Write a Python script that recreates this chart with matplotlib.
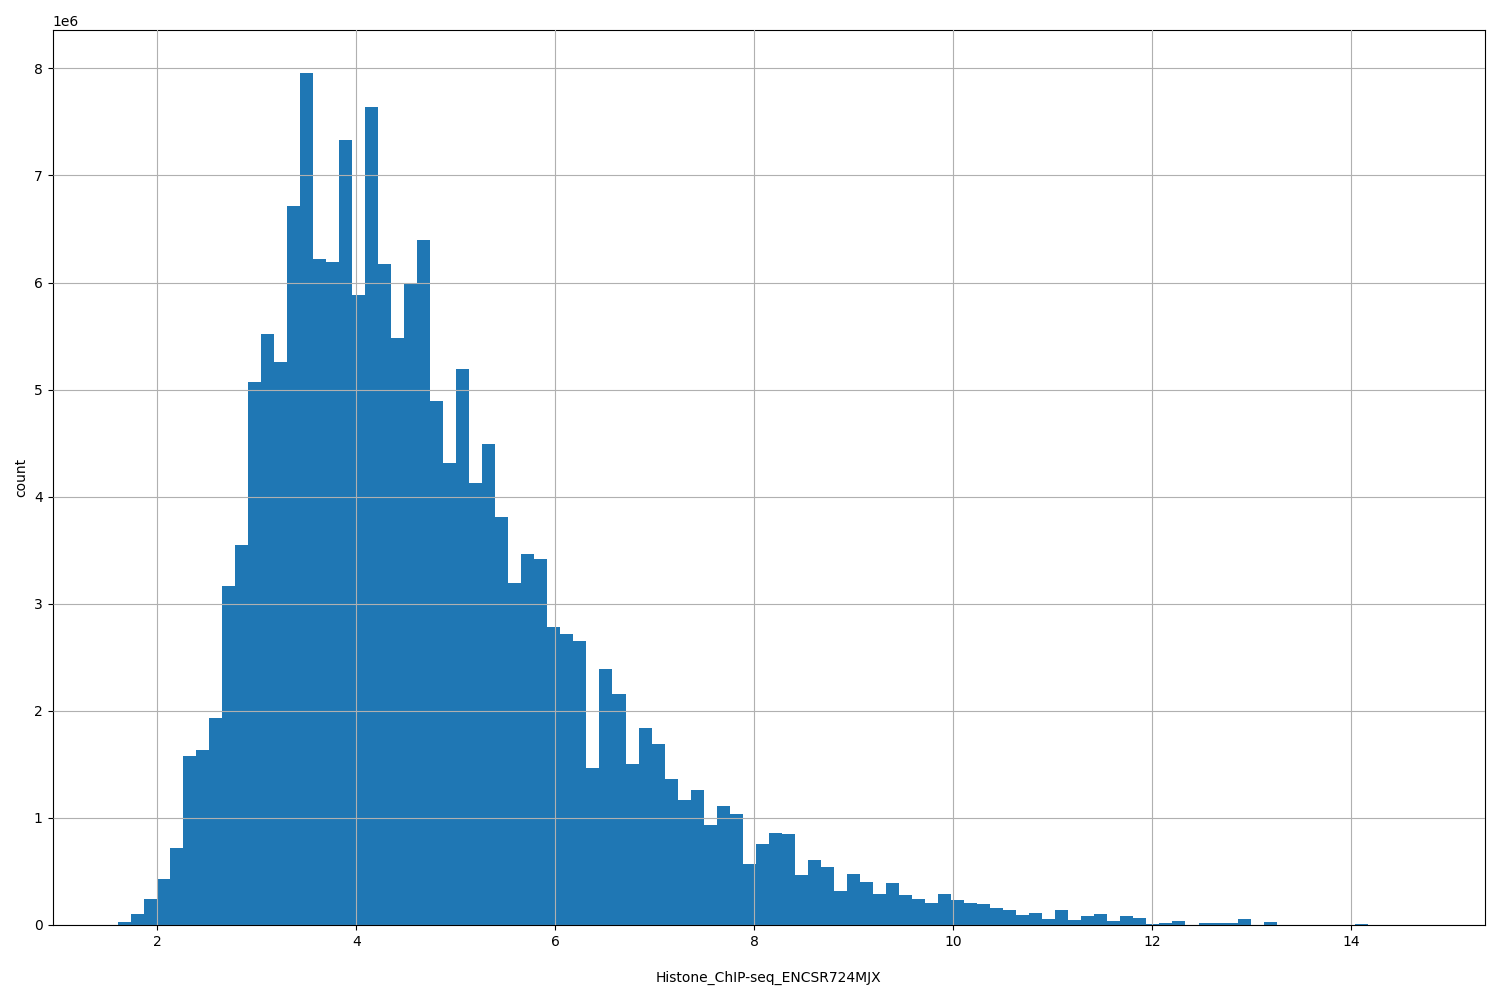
import matplotlib
matplotlib.use("Agg")
import matplotlib.pyplot as plt
import numpy as np

# histogram counts (x1e6), 100 bins from 1.6 to 14.69
x_min = 1.6
x_max = 14.69
counts = [0.03, 0.1, 0.24, 0.43, 0.72, 1.58, 1.63, 1.93, 3.17, 3.55,
          5.07, 5.52, 5.26, 6.71, 7.96, 6.22, 6.19, 7.33, 5.88, 7.64,
          6.17, 5.48, 5.99, 6.40, 4.89, 4.31, 5.19, 4.13, 4.49, 3.81,
          3.19, 3.46, 3.42, 2.78, 2.72, 2.65, 1.47, 2.39, 2.16, 1.50,
          1.84, 1.69, 1.36, 1.17, 1.26, 0.93, 1.11, 1.04, 0.57, 0.76,
          0.86, 0.85, 0.47, 0.61, 0.54, 0.32, 0.48, 0.40, 0.29, 0.39,
          0.28, 0.24, 0.21, 0.29, 0.23, 0.21, 0.20, 0.16, 0.14, 0.09,
          0.11, 0.06, 0.14, 0.05, 0.08, 0.10, 0.04, 0.08, 0.07, 0.005,
          0.02, 0.04, 0.0, 0.015, 0.015, 0.015, 0.06, 0.0, 0.025, 0.0,
          0.0, 0.0, 0.0, 0.0, 0.0, 0.01, 0.0, 0.0, 0.0, 0.002]

edges = np.linspace(x_min, x_max, len(counts) + 1)
centers = (edges[:-1] + edges[1:]) / 2
weights = np.array(counts) * 1e6

fig, ax = plt.subplots(figsize=(15, 10), dpi=100)
ax.hist(centers, bins=edges, weights=weights, color='#1f77b4')
ax.grid(True)
ax.set_axisbelow(False)
ax.set_xlabel('Histone_ChIP-seq_ENCSR724MJX', labelpad=16)
ax.set_ylabel('count')
plt.subplots_adjust(left=0.035, right=0.99, top=0.97, bottom=0.075)
plt.savefig('out.png')
